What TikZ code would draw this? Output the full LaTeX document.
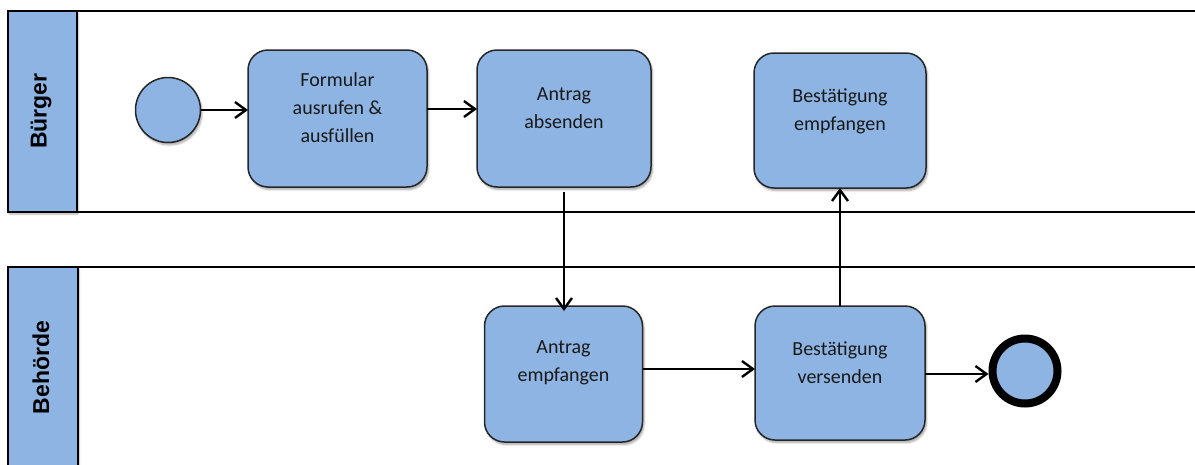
\documentclass[tikz,border=0pt]{standalone}
\usepackage{fontspec}
\setmainfont{Carlito}
\newfontfamily\lanefont{Liberation Sans}[UprightFont=* Bold]
\usetikzlibrary{arrows.meta,shadows.blur}
\definecolor{taskblue}{RGB}{142,180,227}
\tikzset{
  lanebar/.style={draw=black, line width=2pt, fill=taskblue,
    blur shadow={shadow xshift=1pt, shadow yshift=-2pt, shadow blur steps=6, shadow opacity=30}},
  lanetitle/.style={rotate=90, font=\lanefont\fontsize{23}{26}\selectfont},
  task/.style={draw=black!85, line width=1.5pt, fill=taskblue, rounded corners=20pt,
    inner sep=0pt, outer sep=0pt,
    blur shadow={shadow xshift=1.5pt, shadow yshift=-2.5pt, shadow blur steps=6, shadow opacity=35}},
  tasktext/.style={align=center, inner sep=0pt, text=black!90, font=\fontsize{20}{28}\selectfont},
  startev/.style={circle, draw=black!85, line width=1.5pt, fill=taskblue, minimum size=65pt, inner sep=0pt,
    blur shadow={shadow xshift=1.5pt, shadow yshift=-2.5pt, shadow blur steps=6, shadow opacity=35}},
  endev/.style={circle, draw=black, line width=8pt, fill=taskblue, minimum size=65pt, inner sep=0pt,
    blur shadow={shadow xshift=1.5pt, shadow yshift=-2.5pt, shadow blur steps=6, shadow opacity=35}},
  flow/.style={line width=2.4pt, -{Straight Barb[length=11pt,width=16pt,line width=2.4pt]}},
}
\begin{document}
\begin{tikzpicture}[x=1pt,y=-1pt]
\useasboundingbox (0,0) rectangle (1195,464);
\clip (0,0) rectangle (1195,464);

% swimlane frames
\draw[line width=2pt] (1210,11) -- (8,11) -- (8,212) -- (1210,212);
\draw[line width=2pt] (1210,267) -- (8,267) -- (8,480);
\node[lanebar, minimum width=69pt, minimum height=201pt, inner sep=0pt] (laneA) at (42.5,111.5) {};
\node[lanebar, minimum width=70pt, minimum height=210pt, inner sep=0pt] (laneB) at (43,372) {};
\node[lanetitle] (titleA) at (41,111) {Bürger};
\node[lanetitle] (titleB) at (41,367.5) {Behörde};

% events and tasks
\node[startev] (start) at (168,110) {};
\node[task, minimum width=179pt, minimum height=137pt] (f1) at (337.5,118.5) {};
\node[task, minimum width=174pt, minimum height=137pt] (f2) at (564,118.5) {};
\node[task, minimum width=172pt, minimum height=135pt] (be) at (840,120.5) {};
\node[task, minimum width=158pt, minimum height=136pt] (ae) at (563.5,374) {};
\node[task, minimum width=170pt, minimum height=134pt] (bv) at (840,373) {};
\node[endev] (end) at (1025,371) {};

\node[tasktext] (f1t) at ([yshift=10.5pt]f1.center) {Formular\\ausrufen \&\\ausfüllen};
\node[tasktext] (f2t) at ([yshift=10pt]f2.center) {Antrag\\absenden};
\node[tasktext] (bet) at ([yshift=9.5pt]be.center) {Bestätigung\\empfangen};
\node[tasktext] (aet) at ([yshift=11pt]ae.center) {Antrag\\empfangen};
\node[tasktext] (bvt) at ([yshift=10pt]bv.center) {Bestätigung\\versenden};

% sequence flows
\draw[flow] (start.east) -- (start.east -| f1.west);
\draw[flow] ([yshift=9.5pt]f1.east) -- ([yshift=9.5pt]f2.west);
\draw[flow] ([yshift=-5pt]f2.south) -- ([yshift=-5pt]f2.south |- ae.north);
\draw[flow] ([yshift=5pt]ae.east) -- ([yshift=5pt]ae.east -| bv.west);
\draw[flow] (bv.north) -- (bv.north |- be.south);
\draw[flow] ([yshift=-1pt]bv.east) -- ([yshift=-1pt]bv.east -| end.west);
\end{tikzpicture}
\end{document}
